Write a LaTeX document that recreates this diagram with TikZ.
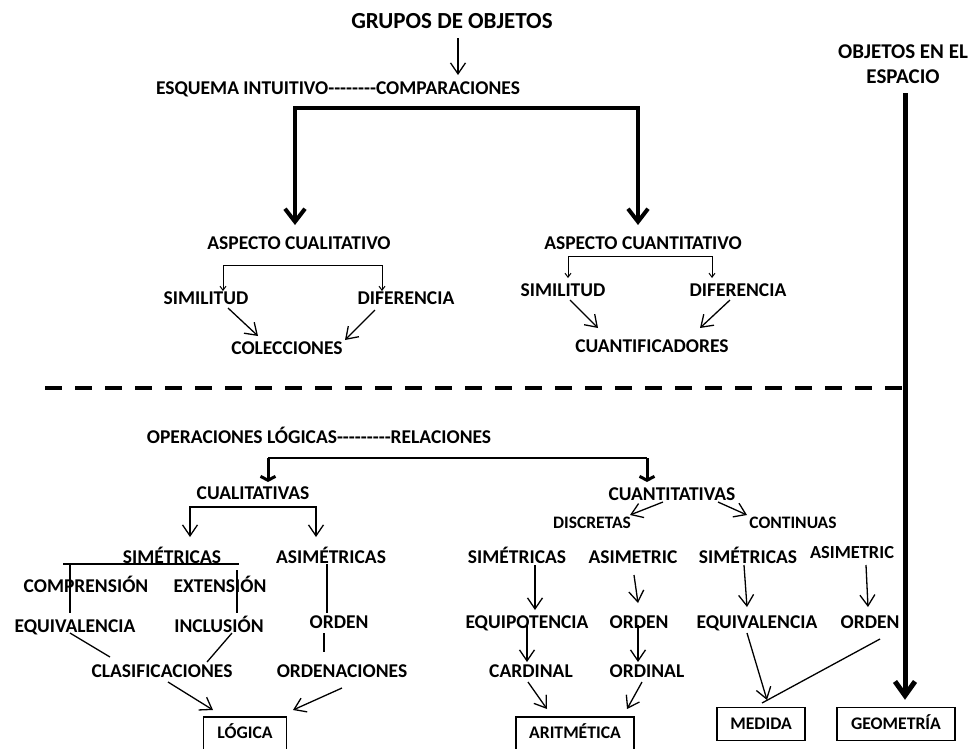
\documentclass[tikz,border=0pt]{standalone}
\usepackage{fontspec}
\newfontfamily\mapfont{Carlito}
\usepackage{tikz}
\usetikzlibrary{arrows.meta,calc}

\begin{document}
\begin{tikzpicture}[x=1pt, y=-1pt,
	lbl/.style={font=\mapfont\bfseries\fontsize{19.5}{22}\selectfont, inner sep=0pt, text height=12.6pt, text depth=0pt},
	biglbl/.style={lbl, font=\mapfont\bfseries\fontsize{23}{26}\selectfont, text height=14.8pt},
	sublbl/.style={lbl, font=\mapfont\bfseries\fontsize{17.5}{20}\selectfont, text height=11.3pt},
	esplbl/.style={font=\mapfont\bfseries\fontsize{21}{25}\selectfont, inner sep=0pt, align=center},
	boxlbl/.style={draw, line width=1.5pt, font=\mapfont\bfseries\fontsize{17.7}{20}\selectfont, inner sep=0pt, text height=11.4pt, text depth=0pt},
	cutbox/.style={boxlbl, minimum height=44, text depth=12pt},
	plainline/.style={line width=1.3pt},
	arr/.style={line width=1.3pt, -{Straight Barb[length=11pt,width=15pt]}},
	tinyarr/.style={line width=1pt, -{Straight Barb[length=4pt,width=6pt]}},
	bigarr/.style={line width=4pt, -{Straight Barb[length=13pt,width=20pt]}},
	objarr/.style={line width=5pt, -{Straight Barb[length=14pt,width=20pt]}},
	stemarr/.style={line width=3pt, -{Straight Barb[length=4pt,width=15pt]}},
	barline/.style={line width=1.6pt},
	sepline/.style={line width=4pt, dash pattern=on 17pt off 13pt}]
	\useasboundingbox (0,0) rectangle (970,748);
	\clip (0,0) rectangle (970,748);
	% upper half
	\node[biglbl] (grupos) at (452,21) {GRUPOS DE OBJETOS};
	\node[lbl] (esquema) at (338,88) {ESQUEMA INTUITIVO--------COMPARACIONES};
	\node[esplbl] (espacio) at (903,64.5) {OBJETOS EN EL\\ESPACIO};
	\node[lbl] (acual) at (299,243) {ASPECTO CUALITATIVO};
	\node[lbl] (acuant) at (643,243) {ASPECTO CUANTITATIVO};
	\node[lbl] (simA) at (206,298) {SIMILITUD};
	\node[lbl] (difA) at (406,298) {DIFERENCIA};
	\node[lbl] (colec) at (287,348) {COLECCIONES};
	\node[lbl] (simB) at (563,290) {SIMILITUD};
	\node[lbl] (difB) at (738,290) {DIFERENCIA};
	\node[lbl] (cuantif) at (652,346) {CUANTIFICADORES};
	% lower half
	\node[lbl] (oper) at (319,437) {OPERACIONES LÓGICAS---------RELACIONES};
	\node[lbl] (cualit) at (253,493) {CUALITATIVAS};
	\node[lbl] (cuantit) at (672,494) {CUANTITATIVAS};
	\node[lbl] (simet) at (172,557) {SIMÉTRICAS};
	\node[lbl] (asimet) at (331,557) {ASIMÉTRICAS};
	\node[lbl] (compr) at (86,586) {COMPRENSIÓN};
	\node[lbl] (exten) at (220,586) {EXTENSIÓN};
	\node[lbl] (equivA) at (75,626) {EQUIVALENCIA};
	\node[lbl] (inclu) at (219,626) {INCLUSIÓN};
	\node[lbl] (ordenA) at (339,622) {ORDEN};
	\node[lbl] (clasif) at (162,671) {CLASIFICACIONES};
	\node[lbl] (ordenac) at (342,671) {ORDENACIONES};
	\node[cutbox, minimum width=83] (logica) at (245,739) {LÓGICA};
	\node[sublbl] (discr) at (592,523) {DISCRETAS};
	\node[sublbl] (contin) at (793,523) {CONTINUAS};
	\node[lbl] (simC) at (517,557) {SIMÉTRICAS};
	\node[lbl] (asimC) at (633,557) {ASIMETRIC};
	\node[lbl] (simD) at (748,557) {SIMÉTRICAS};
	\node[lbl, font=\mapfont\bfseries\fontsize{18.4}{21}\selectfont] (asimD) at (852,552) {ASIMETRIC};
	\node[lbl] (equip) at (527,622) {EQUIPOTENCIA};
	\node[lbl] (ordenC) at (639,622) {ORDEN};
	\node[lbl] (equivD) at (757,622) {EQUIVALENCIA};
	\node[lbl] (ordenD) at (870,622) {ORDEN};
	\node[lbl] (cardinal) at (531,671) {CARDINAL};
	\node[lbl] (ordinal) at (647,671) {ORDINAL};
	\node[cutbox, minimum width=118] (aritm) at (575,739) {ARITMÉTICA};
	\node[boxlbl, minimum width=88, minimum height=33] (medida) at (761,724) {MEDIDA};
	\node[boxlbl, minimum width=118, minimum height=33] (geom) at (896,724) {GEOMETRÍA};
	% connectors, upper half
	\draw[arr] ($(grupos)+(6,17)$) -- ($(esquema)+(120,-13)$);
	\draw[bigarr] ($(esquema)+(128,20)$) -| ($(acual)+(-4,-18)$);
	\draw[bigarr] ($(esquema)+(128,20)$) -| ($(acuant)+(-5,-18)$);
	\draw[tinyarr] ($(acual)+(0,22)$) -| ($(simA)+(17,-7)$);
	\draw[tinyarr] ($(acual)+(0,22)$) -| ($(difA)+(-24,-7)$);
	\draw[arr] ($(simA)+(22,10)$) -- ($(colec)+(-29,-12)$);
	\draw[arr] ($(difA)+(-31,12)$) -- ($(colec)+(58,-8)$);
	\draw[tinyarr] ($(acuant)+(0,13)$) -| ($(simB)+(5,-12)$);
	\draw[tinyarr] ($(acuant)+(0,13)$) -| ($(difB)+(-26,-12)$);
	\draw[arr] ($(simB)+(7,10)$) -- ($(cuantif)+(-54,-18)$);
	\draw[arr] ($(difB)+(-8,10)$) -- ($(cuantif)+(48,-18)$);
	\draw[objarr] ($(espacio.south)+(2,9)$) -- ($(geom.north)+(9,-7)$);
	\coordinate (sepL) at (45,388);
	\draw[sepline] (sepL) -- (sepL -| espacio.south);
	% connectors, lower half
	\draw[barline] ($(cualit)+(15,-35)$) -- ($(cuantit)+(-25,-36)$);
	\draw[stemarr] ($(cualit)+(15,-35)$) -- ($(cualit)+(15,-11)$);
	\draw[stemarr] ($(cuantit)+(-25,-36)$) -- ($(cuantit)+(-25,-12)$);
	\draw[arr] ($(cualit)+(0,14)$) -| ($(simet)+(18,-20)$);
	\draw[arr] ($(cualit)+(0,14)$) -| ($(asimet)+(-15,-20)$);
	\draw[plainline] ($(simet)+(-109,7)$) -- ($(simet)+(67,7)$);
	\draw[plainline] ($(simet)+(-102,7)$) -- ($(equivA)+(-5,-13)$);
	\draw[plainline] ($(exten)+(17,-16)$) -- ($(inclu)+(18,-13)$);
	\draw[plainline] ($(asimet)+(-4,7)$) -- ($(ordenA)+(-12,-9)$);
	\draw[plainline] ($(ordenA)+(-15,11)$) -- ($(ordenac)+(-18,-19)$);
	\draw[plainline] ($(equivA)+(-5,7)$) -- ($(clasif)+(-52,-14)$);
	\draw[plainline] ($(inclu)+(13,7)$) -- ($(clasif)+(45,-9)$);
	\draw[arr] ($(clasif)+(6,11)$) -- ($(logica)+(-32,-29)$);
	\draw[arr] ($(ordenac)+(0,17)$) -- ($(logica)+(48,-29)$);
	\draw[arr] ($(cuantit)+(-9,8)$) -- ($(discr)+(38,-8)$);
	\draw[arr] ($(cuantit)+(46,8)$) -- ($(contin)+(-46,-8)$);
	\draw[arr] ($(simC)+(18,8)$) -- ($(equip)+(8,-12)$);
	\draw[arr] ($(asimC)+(1,18)$) -- ($(ordenC)+(-1,-19)$);
	\draw[arr] ($(simD)+(-4,8)$) -- ($(equivD)+(-10,-15)$);
	\draw[arr] ($(asimD)+(14,13)$) -- ($(ordenD)+(-2,-15)$);
	\draw[arr] ($(equip)+(0,3)$) -- ($(cardinal)+(-4,-9)$);
	\draw[arr] ($(ordenC)+(-1,3)$) -- ($(ordinal)+(-9,-9)$);
	\draw[arr] ($(cardinal)+(-3,11)$) -- ($(aritm)+(-28,-30)$);
	\draw[arr] ($(ordinal)+(-5,11)$) -- ($(aritm)+(52,-30)$);
	\draw[arr] ($(equivD)+(-10,11)$) -- ($(medida)+(6,-24)$);
	\draw[plainline] ($(ordenD)+(10,17)$) -- ($(medida)+(1,-21)$);
\end{tikzpicture}
\end{document}
